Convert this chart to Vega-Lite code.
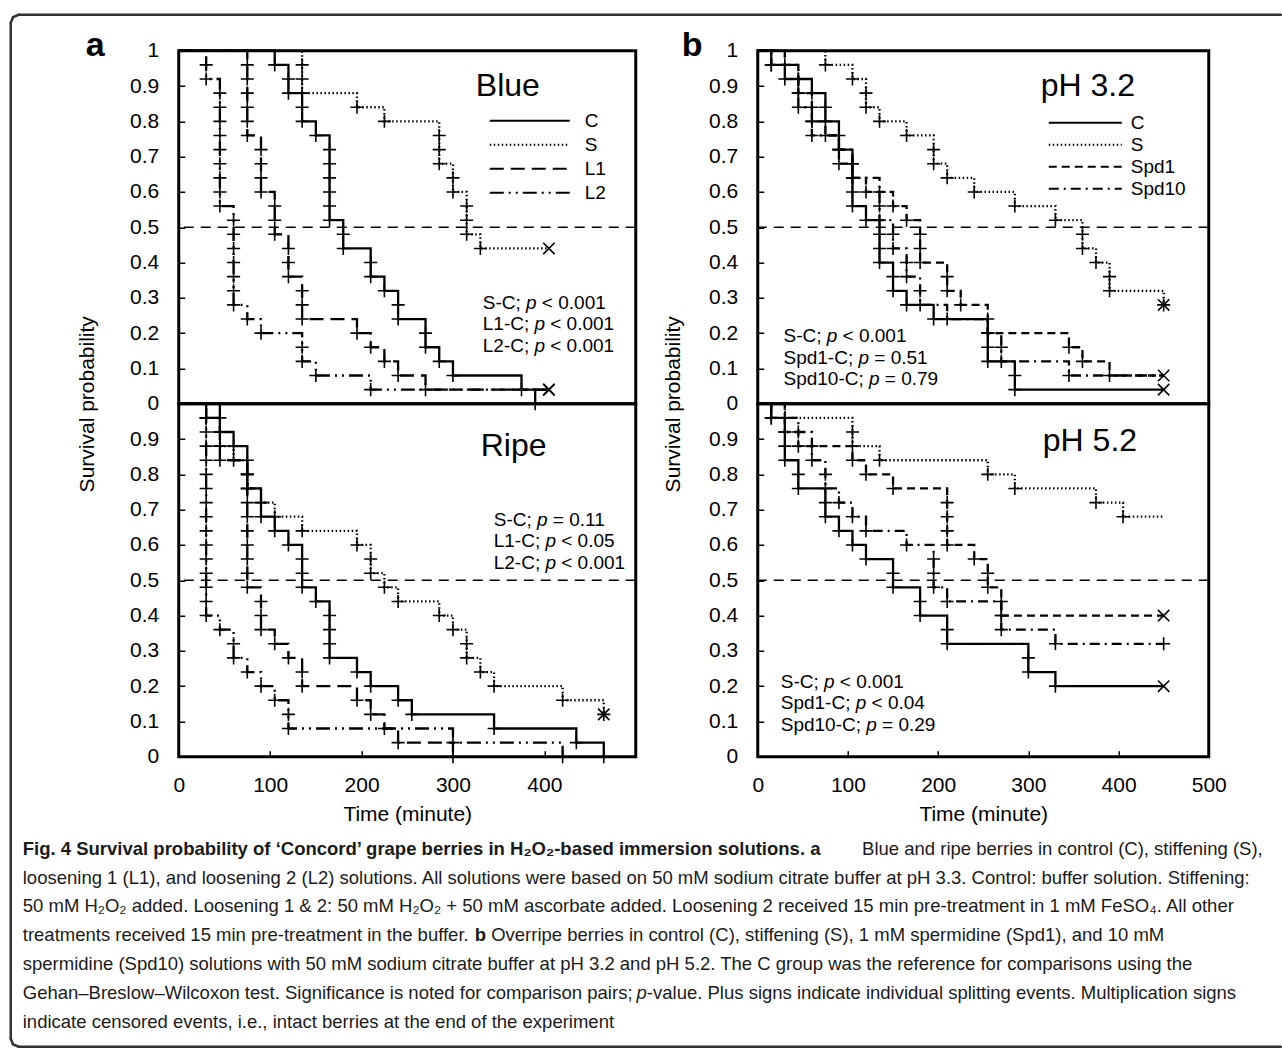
{
"$schema": "https://vega.github.io/schema/vega-lite/v6.json",
"padding": {"left": 8.75, "top": 12.75, "right": 0, "bottom": 0},
"autosize": {"type": "pad"},
"background": "white",
"config": {
  "font": "Liberation Sans",
  "view": {"stroke": "black", "strokeWidth": 3},
  "axis": {"domain": false, "grid": false, "ticks": true, "tickColor": "black", "tickWidth": 1.5, "tickSize": -6, "labelFont": "Liberation Sans", "labelFontSize": 21, "labelColor": "black", "labelFlush": false, "labelOverlap": false, "titleFont": "Liberation Sans", "titleFontSize": 21, "titleFontWeight": "normal", "titleColor": "black"},
  "text": {"color": "black", "font": "Liberation Sans"}
},
"datasets": {
"blue": [
{"g":"C","t":0,"s":1,"m":"n"},{"g":"C","t":105,"s":0.96,"m":"e"},{"g":"C","t":120,"s":0.92,"m":"e"},{"g":"C","t":120,"s":0.88,"m":"e"},{"g":"C","t":135,"s":0.84,"m":"e"},{"g":"C","t":135,"s":0.8,"m":"e"},{"g":"C","t":150,"s":0.76,"m":"e"},{"g":"C","t":165,"s":0.72,"m":"e"},{"g":"C","t":165,"s":0.68,"m":"e"},{"g":"C","t":165,"s":0.64,"m":"e"},{"g":"C","t":165,"s":0.6,"m":"e"},{"g":"C","t":165,"s":0.56,"m":"e"},{"g":"C","t":165,"s":0.52,"m":"e"},{"g":"C","t":180,"s":0.48,"m":"e"},{"g":"C","t":180,"s":0.44,"m":"e"},{"g":"C","t":210,"s":0.4,"m":"e"},{"g":"C","t":210,"s":0.36,"m":"e"},{"g":"C","t":225,"s":0.32,"m":"e"},{"g":"C","t":240,"s":0.28,"m":"e"},{"g":"C","t":240,"s":0.24,"m":"e"},{"g":"C","t":270,"s":0.2,"m":"e"},{"g":"C","t":270,"s":0.16,"m":"e"},{"g":"C","t":285,"s":0.12,"m":"e"},{"g":"C","t":300,"s":0.08,"m":"e"},{"g":"C","t":375,"s":0.04,"m":"e"},{"g":"C","t":390,"s":0,"m":"e"},
{"g":"S","t":0,"s":1,"m":"n"},{"g":"S","t":135,"s":0.96,"m":"e"},{"g":"S","t":135,"s":0.92,"m":"e"},{"g":"S","t":135,"s":0.88,"m":"e"},{"g":"S","t":195,"s":0.84,"m":"e"},{"g":"S","t":225,"s":0.8,"m":"e"},{"g":"S","t":285,"s":0.76,"m":"e"},{"g":"S","t":285,"s":0.72,"m":"e"},{"g":"S","t":285,"s":0.68,"m":"e"},{"g":"S","t":300,"s":0.64,"m":"e"},{"g":"S","t":300,"s":0.6,"m":"e"},{"g":"S","t":315,"s":0.56,"m":"e"},{"g":"S","t":315,"s":0.52,"m":"e"},{"g":"S","t":315,"s":0.48,"m":"e"},{"g":"S","t":330,"s":0.44,"m":"e"},{"g":"S","t":405,"s":0.44,"m":"c"},
{"g":"L1","t":0,"s":1,"m":"n"},{"g":"L1","t":75,"s":0.96,"m":"e"},{"g":"L1","t":75,"s":0.92,"m":"e"},{"g":"L1","t":75,"s":0.88,"m":"e"},{"g":"L1","t":75,"s":0.84,"m":"e"},{"g":"L1","t":75,"s":0.8,"m":"e"},{"g":"L1","t":75,"s":0.76,"m":"e"},{"g":"L1","t":90,"s":0.72,"m":"e"},{"g":"L1","t":90,"s":0.68,"m":"e"},{"g":"L1","t":90,"s":0.64,"m":"e"},{"g":"L1","t":90,"s":0.6,"m":"e"},{"g":"L1","t":105,"s":0.56,"m":"e"},{"g":"L1","t":105,"s":0.52,"m":"e"},{"g":"L1","t":105,"s":0.48,"m":"e"},{"g":"L1","t":120,"s":0.44,"m":"e"},{"g":"L1","t":120,"s":0.4,"m":"e"},{"g":"L1","t":120,"s":0.36,"m":"e"},{"g":"L1","t":135,"s":0.32,"m":"e"},{"g":"L1","t":135,"s":0.28,"m":"e"},{"g":"L1","t":135,"s":0.24,"m":"e"},{"g":"L1","t":195,"s":0.2,"m":"e"},{"g":"L1","t":210,"s":0.16,"m":"e"},{"g":"L1","t":225,"s":0.12,"m":"e"},{"g":"L1","t":240,"s":0.08,"m":"e"},{"g":"L1","t":270,"s":0.04,"m":"e"},{"g":"L1","t":405,"s":0.04,"m":"c"},
{"g":"L2","t":0,"s":1,"m":"n"},{"g":"L2","t":30,"s":0.96,"m":"e"},{"g":"L2","t":30,"s":0.92,"m":"e"},{"g":"L2","t":45,"s":0.88,"m":"e"},{"g":"L2","t":45,"s":0.84,"m":"e"},{"g":"L2","t":45,"s":0.8,"m":"e"},{"g":"L2","t":45,"s":0.76,"m":"e"},{"g":"L2","t":45,"s":0.72,"m":"e"},{"g":"L2","t":45,"s":0.68,"m":"e"},{"g":"L2","t":45,"s":0.64,"m":"e"},{"g":"L2","t":45,"s":0.6,"m":"e"},{"g":"L2","t":45,"s":0.56,"m":"e"},{"g":"L2","t":60,"s":0.52,"m":"e"},{"g":"L2","t":60,"s":0.48,"m":"e"},{"g":"L2","t":60,"s":0.44,"m":"e"},{"g":"L2","t":60,"s":0.4,"m":"e"},{"g":"L2","t":60,"s":0.36,"m":"e"},{"g":"L2","t":60,"s":0.32,"m":"e"},{"g":"L2","t":60,"s":0.28,"m":"e"},{"g":"L2","t":75,"s":0.24,"m":"e"},{"g":"L2","t":90,"s":0.2,"m":"e"},{"g":"L2","t":135,"s":0.16,"m":"e"},{"g":"L2","t":135,"s":0.12,"m":"e"},{"g":"L2","t":150,"s":0.08,"m":"e"},{"g":"L2","t":210,"s":0.04,"m":"e"},{"g":"L2","t":405,"s":0.04,"m":"c"}
],
"ripe": [
{"g":"C","t":0,"s":1,"m":"n"},{"g":"C","t":30,"s":0.96,"m":"e"},{"g":"C","t":45,"s":0.92,"m":"e"},{"g":"C","t":60,"s":0.88,"m":"e"},{"g":"C","t":75,"s":0.84,"m":"e"},{"g":"C","t":75,"s":0.8,"m":"e"},{"g":"C","t":75,"s":0.76,"m":"e"},{"g":"C","t":90,"s":0.72,"m":"e"},{"g":"C","t":90,"s":0.68,"m":"e"},{"g":"C","t":105,"s":0.64,"m":"e"},{"g":"C","t":120,"s":0.6,"m":"e"},{"g":"C","t":135,"s":0.56,"m":"e"},{"g":"C","t":135,"s":0.52,"m":"e"},{"g":"C","t":135,"s":0.48,"m":"e"},{"g":"C","t":150,"s":0.44,"m":"e"},{"g":"C","t":165,"s":0.4,"m":"e"},{"g":"C","t":165,"s":0.36,"m":"e"},{"g":"C","t":165,"s":0.32,"m":"e"},{"g":"C","t":165,"s":0.28,"m":"e"},{"g":"C","t":195,"s":0.24,"m":"e"},{"g":"C","t":210,"s":0.2,"m":"e"},{"g":"C","t":240,"s":0.16,"m":"e"},{"g":"C","t":255,"s":0.12,"m":"e"},{"g":"C","t":345,"s":0.08,"m":"e"},{"g":"C","t":435,"s":0.04,"m":"e"},{"g":"C","t":465,"s":0,"m":"e"},
{"g":"S","t":0,"s":1,"m":"n"},{"g":"S","t":30,"s":0.96,"m":"e"},{"g":"S","t":45,"s":0.92,"m":"e"},{"g":"S","t":45,"s":0.88,"m":"e"},{"g":"S","t":60,"s":0.84,"m":"e"},{"g":"S","t":75,"s":0.8,"m":"e"},{"g":"S","t":75,"s":0.76,"m":"e"},{"g":"S","t":90,"s":0.72,"m":"e"},{"g":"S","t":105,"s":0.68,"m":"e"},{"g":"S","t":135,"s":0.64,"m":"e"},{"g":"S","t":195,"s":0.6,"m":"e"},{"g":"S","t":210,"s":0.56,"m":"e"},{"g":"S","t":210,"s":0.52,"m":"e"},{"g":"S","t":225,"s":0.48,"m":"e"},{"g":"S","t":240,"s":0.44,"m":"e"},{"g":"S","t":285,"s":0.4,"m":"e"},{"g":"S","t":300,"s":0.36,"m":"e"},{"g":"S","t":315,"s":0.32,"m":"e"},{"g":"S","t":315,"s":0.28,"m":"e"},{"g":"S","t":330,"s":0.24,"m":"e"},{"g":"S","t":345,"s":0.2,"m":"e"},{"g":"S","t":420,"s":0.16,"m":"e"},{"g":"S","t":465,"s":0.12,"m":"e"},{"g":"S","t":465,"s":0.12,"m":"c"},
{"g":"L1","t":0,"s":1,"m":"n"},{"g":"L1","t":45,"s":0.96,"m":"e"},{"g":"L1","t":45,"s":0.92,"m":"e"},{"g":"L1","t":45,"s":0.88,"m":"e"},{"g":"L1","t":45,"s":0.84,"m":"e"},{"g":"L1","t":75,"s":0.8,"m":"e"},{"g":"L1","t":75,"s":0.76,"m":"e"},{"g":"L1","t":75,"s":0.72,"m":"e"},{"g":"L1","t":75,"s":0.68,"m":"e"},{"g":"L1","t":75,"s":0.64,"m":"e"},{"g":"L1","t":75,"s":0.6,"m":"e"},{"g":"L1","t":75,"s":0.56,"m":"e"},{"g":"L1","t":75,"s":0.52,"m":"e"},{"g":"L1","t":75,"s":0.48,"m":"e"},{"g":"L1","t":90,"s":0.44,"m":"e"},{"g":"L1","t":90,"s":0.4,"m":"e"},{"g":"L1","t":90,"s":0.36,"m":"e"},{"g":"L1","t":105,"s":0.32,"m":"e"},{"g":"L1","t":120,"s":0.28,"m":"e"},{"g":"L1","t":135,"s":0.24,"m":"e"},{"g":"L1","t":135,"s":0.2,"m":"e"},{"g":"L1","t":195,"s":0.16,"m":"e"},{"g":"L1","t":210,"s":0.12,"m":"e"},{"g":"L1","t":225,"s":0.08,"m":"e"},{"g":"L1","t":240,"s":0.04,"m":"e"},{"g":"L1","t":300,"s":0,"m":"e"},
{"g":"L2","t":0,"s":1,"m":"n"},{"g":"L2","t":30,"s":0.96,"m":"e"},{"g":"L2","t":30,"s":0.92,"m":"e"},{"g":"L2","t":30,"s":0.88,"m":"e"},{"g":"L2","t":30,"s":0.84,"m":"e"},{"g":"L2","t":30,"s":0.8,"m":"e"},{"g":"L2","t":30,"s":0.76,"m":"e"},{"g":"L2","t":30,"s":0.72,"m":"e"},{"g":"L2","t":30,"s":0.68,"m":"e"},{"g":"L2","t":30,"s":0.64,"m":"e"},{"g":"L2","t":30,"s":0.6,"m":"e"},{"g":"L2","t":30,"s":0.56,"m":"e"},{"g":"L2","t":30,"s":0.52,"m":"e"},{"g":"L2","t":30,"s":0.48,"m":"e"},{"g":"L2","t":30,"s":0.44,"m":"e"},{"g":"L2","t":30,"s":0.4,"m":"e"},{"g":"L2","t":45,"s":0.36,"m":"e"},{"g":"L2","t":60,"s":0.32,"m":"e"},{"g":"L2","t":60,"s":0.28,"m":"e"},{"g":"L2","t":75,"s":0.24,"m":"e"},{"g":"L2","t":90,"s":0.2,"m":"e"},{"g":"L2","t":105,"s":0.16,"m":"e"},{"g":"L2","t":120,"s":0.12,"m":"e"},{"g":"L2","t":120,"s":0.08,"m":"e"},{"g":"L2","t":300,"s":0.04,"m":"e"},{"g":"L2","t":420,"s":0,"m":"e"}
],
"ph3": [
{"g":"C","t":0,"s":1,"m":"n"},{"g":"C","t":15,"s":0.96,"m":"e"},{"g":"C","t":30,"s":0.92,"m":"e"},{"g":"C","t":60,"s":0.88,"m":"e"},{"g":"C","t":75,"s":0.84,"m":"e"},{"g":"C","t":75,"s":0.8,"m":"e"},{"g":"C","t":90,"s":0.76,"m":"e"},{"g":"C","t":90,"s":0.72,"m":"e"},{"g":"C","t":105,"s":0.68,"m":"e"},{"g":"C","t":105,"s":0.64,"m":"e"},{"g":"C","t":105,"s":0.6,"m":"e"},{"g":"C","t":105,"s":0.56,"m":"e"},{"g":"C","t":120,"s":0.52,"m":"e"},{"g":"C","t":135,"s":0.48,"m":"e"},{"g":"C","t":135,"s":0.44,"m":"e"},{"g":"C","t":135,"s":0.4,"m":"e"},{"g":"C","t":150,"s":0.36,"m":"e"},{"g":"C","t":150,"s":0.32,"m":"e"},{"g":"C","t":165,"s":0.28,"m":"e"},{"g":"C","t":195,"s":0.24,"m":"e"},{"g":"C","t":255,"s":0.2,"m":"e"},{"g":"C","t":255,"s":0.16,"m":"e"},{"g":"C","t":255,"s":0.12,"m":"e"},{"g":"C","t":285,"s":0.08,"m":"e"},{"g":"C","t":285,"s":0.04,"m":"e"},{"g":"C","t":450,"s":0.04,"m":"c"},
{"g":"S","t":0,"s":1,"m":"n"},{"g":"S","t":75,"s":0.96,"m":"e"},{"g":"S","t":105,"s":0.92,"m":"e"},{"g":"S","t":120,"s":0.88,"m":"e"},{"g":"S","t":120,"s":0.84,"m":"e"},{"g":"S","t":135,"s":0.8,"m":"e"},{"g":"S","t":165,"s":0.76,"m":"e"},{"g":"S","t":195,"s":0.72,"m":"e"},{"g":"S","t":195,"s":0.68,"m":"e"},{"g":"S","t":210,"s":0.64,"m":"e"},{"g":"S","t":240,"s":0.6,"m":"e"},{"g":"S","t":285,"s":0.56,"m":"e"},{"g":"S","t":330,"s":0.52,"m":"e"},{"g":"S","t":360,"s":0.48,"m":"e"},{"g":"S","t":360,"s":0.44,"m":"e"},{"g":"S","t":375,"s":0.4,"m":"e"},{"g":"S","t":390,"s":0.36,"m":"e"},{"g":"S","t":390,"s":0.32,"m":"e"},{"g":"S","t":450,"s":0.28,"m":"e"},{"g":"S","t":450,"s":0.28,"m":"c"},
{"g":"Spd1","t":0,"s":1,"m":"n"},{"g":"Spd1","t":30,"s":0.96,"m":"e"},{"g":"Spd1","t":45,"s":0.92,"m":"e"},{"g":"Spd1","t":45,"s":0.88,"m":"e"},{"g":"Spd1","t":60,"s":0.84,"m":"e"},{"g":"Spd1","t":60,"s":0.8,"m":"e"},{"g":"Spd1","t":75,"s":0.76,"m":"e"},{"g":"Spd1","t":90,"s":0.72,"m":"e"},{"g":"Spd1","t":90,"s":0.68,"m":"e"},{"g":"Spd1","t":105,"s":0.64,"m":"e"},{"g":"Spd1","t":120,"s":0.6,"m":"e"},{"g":"Spd1","t":150,"s":0.56,"m":"e"},{"g":"Spd1","t":165,"s":0.52,"m":"e"},{"g":"Spd1","t":180,"s":0.48,"m":"e"},{"g":"Spd1","t":180,"s":0.44,"m":"e"},{"g":"Spd1","t":180,"s":0.4,"m":"e"},{"g":"Spd1","t":210,"s":0.36,"m":"e"},{"g":"Spd1","t":210,"s":0.32,"m":"e"},{"g":"Spd1","t":225,"s":0.28,"m":"e"},{"g":"Spd1","t":255,"s":0.24,"m":"e"},{"g":"Spd1","t":255,"s":0.2,"m":"e"},{"g":"Spd1","t":345,"s":0.16,"m":"e"},{"g":"Spd1","t":360,"s":0.12,"m":"e"},{"g":"Spd1","t":390,"s":0.08,"m":"e"},{"g":"Spd1","t":450,"s":0.08,"m":"c"},
{"g":"Spd10","t":0,"s":1,"m":"n"},{"g":"Spd10","t":15,"s":0.96,"m":"e"},{"g":"Spd10","t":45,"s":0.92,"m":"e"},{"g":"Spd10","t":45,"s":0.88,"m":"e"},{"g":"Spd10","t":45,"s":0.84,"m":"e"},{"g":"Spd10","t":60,"s":0.8,"m":"e"},{"g":"Spd10","t":60,"s":0.76,"m":"e"},{"g":"Spd10","t":90,"s":0.72,"m":"e"},{"g":"Spd10","t":105,"s":0.68,"m":"e"},{"g":"Spd10","t":105,"s":0.64,"m":"e"},{"g":"Spd10","t":135,"s":0.6,"m":"e"},{"g":"Spd10","t":135,"s":0.56,"m":"e"},{"g":"Spd10","t":135,"s":0.52,"m":"e"},{"g":"Spd10","t":150,"s":0.48,"m":"e"},{"g":"Spd10","t":150,"s":0.44,"m":"e"},{"g":"Spd10","t":165,"s":0.4,"m":"e"},{"g":"Spd10","t":165,"s":0.36,"m":"e"},{"g":"Spd10","t":180,"s":0.32,"m":"e"},{"g":"Spd10","t":180,"s":0.28,"m":"e"},{"g":"Spd10","t":210,"s":0.24,"m":"e"},{"g":"Spd10","t":255,"s":0.2,"m":"e"},{"g":"Spd10","t":270,"s":0.16,"m":"e"},{"g":"Spd10","t":270,"s":0.12,"m":"e"},{"g":"Spd10","t":345,"s":0.08,"m":"e"},{"g":"Spd10","t":450,"s":0.08,"m":"n"}
],
"ph5": [
{"g":"C","t":0,"s":1,"m":"n"},{"g":"C","t":15,"s":0.96,"m":"e"},{"g":"C","t":30,"s":0.92,"m":"e"},{"g":"C","t":30,"s":0.88,"m":"e"},{"g":"C","t":30,"s":0.84,"m":"e"},{"g":"C","t":45,"s":0.8,"m":"e"},{"g":"C","t":45,"s":0.76,"m":"e"},{"g":"C","t":75,"s":0.72,"m":"e"},{"g":"C","t":75,"s":0.68,"m":"e"},{"g":"C","t":90,"s":0.64,"m":"e"},{"g":"C","t":105,"s":0.6,"m":"e"},{"g":"C","t":120,"s":0.56,"m":"e"},{"g":"C","t":150,"s":0.52,"m":"e"},{"g":"C","t":150,"s":0.48,"m":"e"},{"g":"C","t":180,"s":0.44,"m":"e"},{"g":"C","t":180,"s":0.4,"m":"e"},{"g":"C","t":210,"s":0.36,"m":"e"},{"g":"C","t":210,"s":0.32,"m":"e"},{"g":"C","t":300,"s":0.28,"m":"e"},{"g":"C","t":300,"s":0.24,"m":"e"},{"g":"C","t":330,"s":0.2,"m":"e"},{"g":"C","t":450,"s":0.2,"m":"c"},
{"g":"S","t":0,"s":1,"m":"n"},{"g":"S","t":30,"s":0.96,"m":"e"},{"g":"S","t":105,"s":0.92,"m":"e"},{"g":"S","t":105,"s":0.88,"m":"e"},{"g":"S","t":135,"s":0.84,"m":"e"},{"g":"S","t":255,"s":0.8,"m":"e"},{"g":"S","t":285,"s":0.76,"m":"e"},{"g":"S","t":375,"s":0.72,"m":"e"},{"g":"S","t":405,"s":0.68,"m":"e"},{"g":"S","t":450,"s":0.68,"m":"n"},
{"g":"Spd1","t":0,"s":1,"m":"n"},{"g":"Spd1","t":15,"s":0.96,"m":"e"},{"g":"Spd1","t":30,"s":0.92,"m":"e"},{"g":"Spd1","t":45,"s":0.88,"m":"e"},{"g":"Spd1","t":105,"s":0.84,"m":"e"},{"g":"Spd1","t":120,"s":0.8,"m":"e"},{"g":"Spd1","t":150,"s":0.76,"m":"e"},{"g":"Spd1","t":210,"s":0.72,"m":"e"},{"g":"Spd1","t":210,"s":0.68,"m":"e"},{"g":"Spd1","t":210,"s":0.64,"m":"e"},{"g":"Spd1","t":210,"s":0.6,"m":"e"},{"g":"Spd1","t":240,"s":0.56,"m":"e"},{"g":"Spd1","t":255,"s":0.52,"m":"e"},{"g":"Spd1","t":255,"s":0.48,"m":"e"},{"g":"Spd1","t":270,"s":0.44,"m":"e"},{"g":"Spd1","t":270,"s":0.4,"m":"e"},{"g":"Spd1","t":450,"s":0.4,"m":"c"},
{"g":"Spd10","t":0,"s":1,"m":"n"},{"g":"Spd10","t":30,"s":0.96,"m":"e"},{"g":"Spd10","t":45,"s":0.92,"m":"e"},{"g":"Spd10","t":60,"s":0.88,"m":"e"},{"g":"Spd10","t":60,"s":0.84,"m":"e"},{"g":"Spd10","t":75,"s":0.8,"m":"e"},{"g":"Spd10","t":75,"s":0.76,"m":"e"},{"g":"Spd10","t":90,"s":0.72,"m":"e"},{"g":"Spd10","t":105,"s":0.68,"m":"e"},{"g":"Spd10","t":120,"s":0.64,"m":"e"},{"g":"Spd10","t":165,"s":0.6,"m":"e"},{"g":"Spd10","t":195,"s":0.56,"m":"e"},{"g":"Spd10","t":195,"s":0.52,"m":"e"},{"g":"Spd10","t":195,"s":0.48,"m":"e"},{"g":"Spd10","t":210,"s":0.44,"m":"e"},{"g":"Spd10","t":270,"s":0.4,"m":"e"},{"g":"Spd10","t":270,"s":0.36,"m":"e"},{"g":"Spd10","t":330,"s":0.32,"m":"e"},{"g":"Spd10","t":450,"s":0.32,"m":"e"}
],
"ann": [
{"k":"Bt","v":"Blue"},{"k":"Rt","v":"Ripe"},{"k":"Pt","v":"pH 3.2"},{"k":"Qt","v":"pH 5.2"},{"k":"pp","v":"p"},
{"k":"B0a","v":"S-C;"},{"k":"B0c","v":"< 0.001"},{"k":"B1a","v":"L1-C;"},{"k":"B1c","v":"< 0.001"},{"k":"B2a","v":"L2-C;"},{"k":"B2c","v":"< 0.001"},
{"k":"R0a","v":"S-C;"},{"k":"R0c","v":"= 0.11"},{"k":"R1a","v":"L1-C;"},{"k":"R1c","v":"< 0.05"},{"k":"R2a","v":"L2-C;"},{"k":"R2c","v":"< 0.001"},
{"k":"P0a","v":"S-C;"},{"k":"P0c","v":"< 0.001"},{"k":"P1a","v":"Spd1-C;"},{"k":"P1c","v":"= 0.51"},{"k":"P2a","v":"Spd10-C;"},{"k":"P2c","v":"= 0.79"},
{"k":"Q0a","v":"S-C;"},{"k":"Q0c","v":"< 0.001"},{"k":"Q1a","v":"Spd1-C;"},{"k":"Q1c","v":"< 0.04"},{"k":"Q2a","v":"Spd10-C;"},{"k":"Q2c","v":"= 0.29"}
],
"cap": [
{"id":"pa","v":"a"},{"id":"pb","v":"b"},
{"id":"L1a","v":"Fig. 4 Survival probability of ‘Concord’ grape berries in H₂O₂-based immersion solutions. a"},
{"id":"L1b","v":"Blue and ripe berries in control (C), stiffening (S),"},
{"id":"L2","v":"loosening 1 (L1), and loosening 2 (L2) solutions. All solutions were based on 50 mM sodium citrate buffer at pH 3.3. Control: buffer solution. Stiffening:"},
{"id":"L3","v":"50 mM H₂O₂ added. Loosening 1 & 2: 50 mM H₂O₂ + 50 mM ascorbate added. Loosening 2 received 15 min pre-treatment in 1 mM FeSO₄. All other"},
{"id":"L4a","v":"treatments received 15 min pre-treatment in the buffer."},
{"id":"L4b","v":"b"},
{"id":"L4c","v":"Overripe berries in control (C), stiffening (S), 1 mM spermidine (Spd1), and 10 mM"},
{"id":"L5","v":"spermidine (Spd10) solutions with 50 mM sodium citrate buffer at pH 3.2 and pH 5.2. The C group was the reference for comparisons using the"},
{"id":"L6a","v":"Gehan–Breslow–Wilcoxon test. Significance is noted for comparison pairs;"},
{"id":"L6b","v":"p"},
{"id":"L6c","v":"-value. Plus signs indicate individual splitting events. Multiplication signs"},
{"id":"L7","v":"indicate censored events, i.e., intact berries at the end of the experiment"}
]
},
"columns": 2,
"spacing": {"row": 0, "column": 122},
"bounds": "flush",
"resolve": {"scale": {"x": "independent", "y": "independent", "strokeDash": "independent"}, "legend": {"strokeDash": "independent"}},
"concat": [
{
 "width": 457, "height": 353,
 "data": {"name": "blue"},
 "layer": [
  {"data": {"values": [{}]}, "mark": {"type": "rule", "strokeDash": [10, 7], "strokeWidth": 1.4, "color": "black"}, "encoding": {"y": {"datum": 0.5}}},
  {"mark": {"type": "line", "interpolate": "step-after", "strokeWidth": 2.3, "color": "black"},
   "encoding": {
    "x": {"field": "t", "type": "quantitative", "scale": {"domain": [0, 500], "nice": false, "zero": false}, "axis": null},
    "y": {"field": "s", "type": "quantitative", "scale": {"domain": [0, 1], "nice": false}, "axis": {"values": [0,0.1,0.2,0.3,0.4,0.5,0.6,0.7,0.8,0.9,1], "tickCount": 11, "labelOverlap": false, "format": "~g", "labelPadding": 26, "title": "Survival probability", "titleY": 353, "titleX": -81, "titleAngle": -90, "titleBaseline": "bottom", "titleAlign": "center"}},
    "strokeDash": {"field": "g", "type": "nominal", "scale": {"domain": ["C","S","L1","L2"], "range": [[1,0],[1.5,2.5],[14,7],[14,5,2,5,2,5]]},
      "legend": {"orient": "none", "legendX": 310, "legendY": 59, "title": null, "symbolType": "stroke", "symbolSize": 6400, "symbolStrokeWidth": 2, "symbolStrokeColor": "black", "clipHeight": 22, "rowPadding": 2, "labelFontSize": 19, "labelFont": "Liberation Sans", "labelColor": "black", "labelOffset": 14, "padding": 0}},
    "order": [{"field": "t", "type": "quantitative"}, {"field": "s", "type": "quantitative", "sort": "descending"}]
   }},
  {"transform": [{"filter": "datum.m == 'e'"}], "mark": {"type": "point", "shape": "M-1,0L1,0M0,-1L0,1", "size": 170, "filled": false, "strokeWidth": 1.6, "color": "black", "opacity": 1}, "encoding": {"x": {"field": "t", "type": "quantitative", "axis": null}, "y": {"field": "s", "type": "quantitative"}}},
  {"transform": [{"filter": "datum.m == 'c'"}], "mark": {"type": "point", "shape": "M-1,-1L1,1M-1,1L1,-1", "size": 130, "filled": false, "strokeWidth": 1.6, "color": "black", "opacity": 1}, "encoding": {"x": {"field": "t", "type": "quantitative", "axis": null}, "y": {"field": "s", "type": "quantitative"}}},
  {"data": {"name": "ann"}, "transform": [{"filter": "datum.k == 'Bt'"}], "mark": {"type": "text", "align": "left", "baseline": "alphabetic", "fontSize": 32}, "encoding": {"x": {"datum": 325, "axis": null}, "y": {"datum": 0.873}, "text": {"field": "v"}}},
  {"data": {"name": "ann"}, "transform": [{"filter": "datum.k == 'B0a'"}], "mark": {"type": "text", "align": "left", "baseline": "alphabetic", "fontSize": 19, "dy": 0}, "encoding": {"x": {"datum": 332.6, "axis": null}, "y": {"datum": 0.269}, "text": {"field": "v"}}},
  {"data": {"name": "ann"}, "transform": [{"filter": "datum.k == 'pp'"}], "mark": {"type": "text", "align": "left", "baseline": "alphabetic", "fontSize": 19, "fontStyle": "italic", "dx": 43.3, "dy": 0}, "encoding": {"x": {"datum": 332.6, "axis": null}, "y": {"datum": 0.269}, "text": {"field": "v"}}},
  {"data": {"name": "ann"}, "transform": [{"filter": "datum.k == 'B0c'"}], "mark": {"type": "text", "align": "left", "baseline": "alphabetic", "fontSize": 19, "dx": 59.1, "dy": 0}, "encoding": {"x": {"datum": 332.6, "axis": null}, "y": {"datum": 0.269}, "text": {"field": "v"}}},
  {"data": {"name": "ann"}, "transform": [{"filter": "datum.k == 'B1a'"}], "mark": {"type": "text", "align": "left", "baseline": "alphabetic", "fontSize": 19, "dy": 21.5}, "encoding": {"x": {"datum": 332.6, "axis": null}, "y": {"datum": 0.269}, "text": {"field": "v"}}},
  {"data": {"name": "ann"}, "transform": [{"filter": "datum.k == 'pp'"}], "mark": {"type": "text", "align": "left", "baseline": "alphabetic", "fontSize": 19, "fontStyle": "italic", "dx": 51.7, "dy": 21.5}, "encoding": {"x": {"datum": 332.6, "axis": null}, "y": {"datum": 0.269}, "text": {"field": "v"}}},
  {"data": {"name": "ann"}, "transform": [{"filter": "datum.k == 'B1c'"}], "mark": {"type": "text", "align": "left", "baseline": "alphabetic", "fontSize": 19, "dx": 67.5, "dy": 21.5}, "encoding": {"x": {"datum": 332.6, "axis": null}, "y": {"datum": 0.269}, "text": {"field": "v"}}},
  {"data": {"name": "ann"}, "transform": [{"filter": "datum.k == 'B2a'"}], "mark": {"type": "text", "align": "left", "baseline": "alphabetic", "fontSize": 19, "dy": 43}, "encoding": {"x": {"datum": 332.6, "axis": null}, "y": {"datum": 0.269}, "text": {"field": "v"}}},
  {"data": {"name": "ann"}, "transform": [{"filter": "datum.k == 'pp'"}], "mark": {"type": "text", "align": "left", "baseline": "alphabetic", "fontSize": 19, "fontStyle": "italic", "dx": 51.7, "dy": 43}, "encoding": {"x": {"datum": 332.6, "axis": null}, "y": {"datum": 0.269}, "text": {"field": "v"}}},
  {"data": {"name": "ann"}, "transform": [{"filter": "datum.k == 'B2c'"}], "mark": {"type": "text", "align": "left", "baseline": "alphabetic", "fontSize": 19, "dx": 67.5, "dy": 43}, "encoding": {"x": {"datum": 332.6, "axis": null}, "y": {"datum": 0.269}, "text": {"field": "v"}}}
 ]
},
{
 "width": 451, "height": 353,
 "data": {"name": "ph3"},
 "layer": [
  {"data": {"values": [{}]}, "mark": {"type": "rule", "strokeDash": [10, 7], "strokeWidth": 1.4, "color": "black"}, "encoding": {"y": {"datum": 0.5}}},
  {"mark": {"type": "line", "interpolate": "step-after", "strokeWidth": 2.3, "color": "black"},
   "encoding": {
    "x": {"field": "t", "type": "quantitative", "scale": {"domain": [0, 500], "nice": false, "zero": false}, "axis": null},
    "y": {"field": "s", "type": "quantitative", "scale": {"domain": [0, 1], "nice": false}, "axis": {"values": [0,0.1,0.2,0.3,0.4,0.5,0.6,0.7,0.8,0.9,1], "tickCount": 11, "labelOverlap": false, "format": "~g", "labelPadding": 26, "title": "Survival probability", "titleY": 353, "titleX": -74, "titleAngle": -90, "titleBaseline": "bottom", "titleAlign": "center"}},
    "strokeDash": {"field": "g", "type": "nominal", "scale": {"domain": ["C","S","Spd1","Spd10"], "range": [[1,0],[1.5,2.5],[8,5],[10,5,2,5]]},
      "legend": {"orient": "none", "legendX": 290, "legendY": 62, "title": null, "symbolType": "stroke", "symbolSize": 5329, "symbolStrokeWidth": 2, "symbolStrokeColor": "black", "clipHeight": 20, "rowPadding": 2, "labelFontSize": 19, "labelFont": "Liberation Sans", "labelColor": "black", "labelOffset": 8, "padding": 0}},
    "order": [{"field": "t", "type": "quantitative"}, {"field": "s", "type": "quantitative", "sort": "descending"}]
   }},
  {"transform": [{"filter": "datum.m == 'e'"}], "mark": {"type": "point", "shape": "M-1,0L1,0M0,-1L0,1", "size": 170, "filled": false, "strokeWidth": 1.6, "color": "black", "opacity": 1}, "encoding": {"x": {"field": "t", "type": "quantitative", "axis": null}, "y": {"field": "s", "type": "quantitative"}}},
  {"transform": [{"filter": "datum.m == 'c'"}], "mark": {"type": "point", "shape": "M-1,-1L1,1M-1,1L1,-1", "size": 130, "filled": false, "strokeWidth": 1.6, "color": "black", "opacity": 1}, "encoding": {"x": {"field": "t", "type": "quantitative", "axis": null}, "y": {"field": "s", "type": "quantitative"}}},
  {"data": {"name": "ann"}, "transform": [{"filter": "datum.k == 'Pt'"}], "mark": {"type": "text", "align": "left", "baseline": "alphabetic", "fontSize": 32}, "encoding": {"x": {"datum": 313.7, "axis": null}, "y": {"datum": 0.873}, "text": {"field": "v"}}},
  {"data": {"name": "ann"}, "transform": [{"filter": "datum.k == 'P0a'"}], "mark": {"type": "text", "align": "left", "baseline": "alphabetic", "fontSize": 19, "dy": 0}, "encoding": {"x": {"datum": 28.5, "axis": null}, "y": {"datum": 0.174}, "text": {"field": "v"}}},
  {"data": {"name": "ann"}, "transform": [{"filter": "datum.k == 'pp'"}], "mark": {"type": "text", "align": "left", "baseline": "alphabetic", "fontSize": 19, "fontStyle": "italic", "dx": 43.3, "dy": 0}, "encoding": {"x": {"datum": 28.5, "axis": null}, "y": {"datum": 0.174}, "text": {"field": "v"}}},
  {"data": {"name": "ann"}, "transform": [{"filter": "datum.k == 'P0c'"}], "mark": {"type": "text", "align": "left", "baseline": "alphabetic", "fontSize": 19, "dx": 59.1, "dy": 0}, "encoding": {"x": {"datum": 28.5, "axis": null}, "y": {"datum": 0.174}, "text": {"field": "v"}}},
  {"data": {"name": "ann"}, "transform": [{"filter": "datum.k == 'P1a'"}], "mark": {"type": "text", "align": "left", "baseline": "alphabetic", "fontSize": 19, "dy": 21.5}, "encoding": {"x": {"datum": 28.5, "axis": null}, "y": {"datum": 0.174}, "text": {"field": "v"}}},
  {"data": {"name": "ann"}, "transform": [{"filter": "datum.k == 'pp'"}], "mark": {"type": "text", "align": "left", "baseline": "alphabetic", "fontSize": 19, "fontStyle": "italic", "dx": 75.0, "dy": 21.5}, "encoding": {"x": {"datum": 28.5, "axis": null}, "y": {"datum": 0.174}, "text": {"field": "v"}}},
  {"data": {"name": "ann"}, "transform": [{"filter": "datum.k == 'P1c'"}], "mark": {"type": "text", "align": "left", "baseline": "alphabetic", "fontSize": 19, "dx": 90.8, "dy": 21.5}, "encoding": {"x": {"datum": 28.5, "axis": null}, "y": {"datum": 0.174}, "text": {"field": "v"}}},
  {"data": {"name": "ann"}, "transform": [{"filter": "datum.k == 'P2a'"}], "mark": {"type": "text", "align": "left", "baseline": "alphabetic", "fontSize": 19, "dy": 43}, "encoding": {"x": {"datum": 28.5, "axis": null}, "y": {"datum": 0.174}, "text": {"field": "v"}}},
  {"data": {"name": "ann"}, "transform": [{"filter": "datum.k == 'pp'"}], "mark": {"type": "text", "align": "left", "baseline": "alphabetic", "fontSize": 19, "fontStyle": "italic", "dx": 85.5, "dy": 43}, "encoding": {"x": {"datum": 28.5, "axis": null}, "y": {"datum": 0.174}, "text": {"field": "v"}}},
  {"data": {"name": "ann"}, "transform": [{"filter": "datum.k == 'P2c'"}], "mark": {"type": "text", "align": "left", "baseline": "alphabetic", "fontSize": 19, "dx": 101.3, "dy": 43}, "encoding": {"x": {"datum": 28.5, "axis": null}, "y": {"datum": 0.174}, "text": {"field": "v"}}}
 ]
},
{
 "width": 457, "height": 353,
 "data": {"name": "ripe"},
 "layer": [
  {"data": {"values": [{}]}, "mark": {"type": "rule", "strokeDash": [10, 7], "strokeWidth": 1.4, "color": "black"}, "encoding": {"y": {"datum": 0.5}}},
  {"mark": {"type": "line", "interpolate": "step-after", "strokeWidth": 2.3, "color": "black"},
   "encoding": {
    "x": {"field": "t", "type": "quantitative", "scale": {"domain": [0, 500], "nice": false, "zero": false}, "axis": {"values": [0,100,200,300,400,500], "labelOverlap": false, "labelPadding": 23.5, "labelExpr": "datum.value >= 500 ? '' : datum.label", "title": "Time (minute)", "titlePadding": 8}},
    "y": {"field": "s", "type": "quantitative", "scale": {"domain": [0, 1], "nice": false}, "axis": {"values": [0,0.1,0.2,0.3,0.4,0.5,0.6,0.7,0.8,0.9,1], "tickCount": 11, "labelOverlap": false, "format": "~g", "labelPadding": 26, "labelExpr": "datum.value >= 1 ? '' : datum.label", "title": null}},
    "strokeDash": {"field": "g", "type": "nominal", "scale": {"domain": ["C","S","L1","L2"], "range": [[1,0],[1.5,2.5],[14,7],[14,5,2,5,2,5]]}, "legend": null},
    "order": [{"field": "t", "type": "quantitative"}, {"field": "s", "type": "quantitative", "sort": "descending"}]
   }},
  {"transform": [{"filter": "datum.m == 'e'"}], "mark": {"type": "point", "shape": "M-1,0L1,0M0,-1L0,1", "size": 170, "filled": false, "strokeWidth": 1.6, "color": "black", "opacity": 1}, "encoding": {"x": {"field": "t", "type": "quantitative"}, "y": {"field": "s", "type": "quantitative"}}},
  {"transform": [{"filter": "datum.m == 'c'"}], "mark": {"type": "point", "shape": "M-1,-1L1,1M-1,1L1,-1", "size": 130, "filled": false, "strokeWidth": 1.6, "color": "black", "opacity": 1}, "encoding": {"x": {"field": "t", "type": "quantitative"}, "y": {"field": "s", "type": "quantitative"}}},
  {"data": {"name": "ann"}, "transform": [{"filter": "datum.k == 'Rt'"}], "mark": {"type": "text", "align": "left", "baseline": "alphabetic", "fontSize": 32}, "encoding": {"x": {"datum": 330.4}, "y": {"datum": 0.853}, "text": {"field": "v"}}},
  {"data": {"name": "ann"}, "transform": [{"filter": "datum.k == 'R0a'"}], "mark": {"type": "text", "align": "left", "baseline": "alphabetic", "fontSize": 19, "dy": 0}, "encoding": {"x": {"datum": 344.6}, "y": {"datum": 0.654}, "text": {"field": "v"}}},
  {"data": {"name": "ann"}, "transform": [{"filter": "datum.k == 'pp'"}], "mark": {"type": "text", "align": "left", "baseline": "alphabetic", "fontSize": 19, "fontStyle": "italic", "dx": 43.3, "dy": 0}, "encoding": {"x": {"datum": 344.6}, "y": {"datum": 0.654}, "text": {"field": "v"}}},
  {"data": {"name": "ann"}, "transform": [{"filter": "datum.k == 'R0c'"}], "mark": {"type": "text", "align": "left", "baseline": "alphabetic", "fontSize": 19, "dx": 59.1, "dy": 0}, "encoding": {"x": {"datum": 344.6}, "y": {"datum": 0.654}, "text": {"field": "v"}}},
  {"data": {"name": "ann"}, "transform": [{"filter": "datum.k == 'R1a'"}], "mark": {"type": "text", "align": "left", "baseline": "alphabetic", "fontSize": 19, "dy": 21.5}, "encoding": {"x": {"datum": 344.6}, "y": {"datum": 0.654}, "text": {"field": "v"}}},
  {"data": {"name": "ann"}, "transform": [{"filter": "datum.k == 'pp'"}], "mark": {"type": "text", "align": "left", "baseline": "alphabetic", "fontSize": 19, "fontStyle": "italic", "dx": 51.7, "dy": 21.5}, "encoding": {"x": {"datum": 344.6}, "y": {"datum": 0.654}, "text": {"field": "v"}}},
  {"data": {"name": "ann"}, "transform": [{"filter": "datum.k == 'R1c'"}], "mark": {"type": "text", "align": "left", "baseline": "alphabetic", "fontSize": 19, "dx": 67.5, "dy": 21.5}, "encoding": {"x": {"datum": 344.6}, "y": {"datum": 0.654}, "text": {"field": "v"}}},
  {"data": {"name": "ann"}, "transform": [{"filter": "datum.k == 'R2a'"}], "mark": {"type": "text", "align": "left", "baseline": "alphabetic", "fontSize": 19, "dy": 43}, "encoding": {"x": {"datum": 344.6}, "y": {"datum": 0.654}, "text": {"field": "v"}}},
  {"data": {"name": "ann"}, "transform": [{"filter": "datum.k == 'pp'"}], "mark": {"type": "text", "align": "left", "baseline": "alphabetic", "fontSize": 19, "fontStyle": "italic", "dx": 51.7, "dy": 43}, "encoding": {"x": {"datum": 344.6}, "y": {"datum": 0.654}, "text": {"field": "v"}}},
  {"data": {"name": "ann"}, "transform": [{"filter": "datum.k == 'R2c'"}], "mark": {"type": "text", "align": "left", "baseline": "alphabetic", "fontSize": 19, "dx": 67.5, "dy": 43}, "encoding": {"x": {"datum": 344.6}, "y": {"datum": 0.654}, "text": {"field": "v"}}}
 ]
},
{
 "width": 451, "height": 353,
 "data": {"name": "ph5"},
 "layer": [
  {"data": {"values": [{}]}, "mark": {"type": "rule", "strokeDash": [10, 7], "strokeWidth": 1.4, "color": "black"}, "encoding": {"y": {"datum": 0.5}}},
  {"mark": {"type": "line", "interpolate": "step-after", "strokeWidth": 2.3, "color": "black"},
   "encoding": {
    "x": {"field": "t", "type": "quantitative", "scale": {"domain": [0, 500], "nice": false, "zero": false}, "axis": {"values": [0,100,200,300,400,500], "labelOverlap": false, "labelPadding": 23.5, "title": "Time (minute)", "titlePadding": 8}},
    "y": {"field": "s", "type": "quantitative", "scale": {"domain": [0, 1], "nice": false}, "axis": {"values": [0,0.1,0.2,0.3,0.4,0.5,0.6,0.7,0.8,0.9,1], "tickCount": 11, "labelOverlap": false, "format": "~g", "labelPadding": 26, "labelExpr": "datum.value >= 1 ? '' : datum.label", "title": null}},
    "strokeDash": {"field": "g", "type": "nominal", "scale": {"domain": ["C","S","Spd1","Spd10"], "range": [[1,0],[1.5,2.5],[8,5],[10,5,2,5]]}, "legend": null},
    "order": [{"field": "t", "type": "quantitative"}, {"field": "s", "type": "quantitative", "sort": "descending"}]
   }},
  {"transform": [{"filter": "datum.m == 'e'"}], "mark": {"type": "point", "shape": "M-1,0L1,0M0,-1L0,1", "size": 170, "filled": false, "strokeWidth": 1.6, "color": "black", "opacity": 1}, "encoding": {"x": {"field": "t", "type": "quantitative"}, "y": {"field": "s", "type": "quantitative"}}},
  {"transform": [{"filter": "datum.m == 'c'"}], "mark": {"type": "point", "shape": "M-1,-1L1,1M-1,1L1,-1", "size": 130, "filled": false, "strokeWidth": 1.6, "color": "black", "opacity": 1}, "encoding": {"x": {"field": "t", "type": "quantitative"}, "y": {"field": "s", "type": "quantitative"}}},
  {"data": {"name": "ann"}, "transform": [{"filter": "datum.k == 'Qt'"}], "mark": {"type": "text", "align": "left", "baseline": "alphabetic", "fontSize": 32}, "encoding": {"x": {"datum": 316}, "y": {"datum": 0.867}, "text": {"field": "v"}}},
  {"data": {"name": "ann"}, "transform": [{"filter": "datum.k == 'Q0a'"}], "mark": {"type": "text", "align": "left", "baseline": "alphabetic", "fontSize": 19, "dy": 0}, "encoding": {"x": {"datum": 25.5}, "y": {"datum": 0.196}, "text": {"field": "v"}}},
  {"data": {"name": "ann"}, "transform": [{"filter": "datum.k == 'pp'"}], "mark": {"type": "text", "align": "left", "baseline": "alphabetic", "fontSize": 19, "fontStyle": "italic", "dx": 43.3, "dy": 0}, "encoding": {"x": {"datum": 25.5}, "y": {"datum": 0.196}, "text": {"field": "v"}}},
  {"data": {"name": "ann"}, "transform": [{"filter": "datum.k == 'Q0c'"}], "mark": {"type": "text", "align": "left", "baseline": "alphabetic", "fontSize": 19, "dx": 59.1, "dy": 0}, "encoding": {"x": {"datum": 25.5}, "y": {"datum": 0.196}, "text": {"field": "v"}}},
  {"data": {"name": "ann"}, "transform": [{"filter": "datum.k == 'Q1a'"}], "mark": {"type": "text", "align": "left", "baseline": "alphabetic", "fontSize": 19, "dy": 21.5}, "encoding": {"x": {"datum": 25.5}, "y": {"datum": 0.196}, "text": {"field": "v"}}},
  {"data": {"name": "ann"}, "transform": [{"filter": "datum.k == 'pp'"}], "mark": {"type": "text", "align": "left", "baseline": "alphabetic", "fontSize": 19, "fontStyle": "italic", "dx": 75.0, "dy": 21.5}, "encoding": {"x": {"datum": 25.5}, "y": {"datum": 0.196}, "text": {"field": "v"}}},
  {"data": {"name": "ann"}, "transform": [{"filter": "datum.k == 'Q1c'"}], "mark": {"type": "text", "align": "left", "baseline": "alphabetic", "fontSize": 19, "dx": 90.8, "dy": 21.5}, "encoding": {"x": {"datum": 25.5}, "y": {"datum": 0.196}, "text": {"field": "v"}}},
  {"data": {"name": "ann"}, "transform": [{"filter": "datum.k == 'Q2a'"}], "mark": {"type": "text", "align": "left", "baseline": "alphabetic", "fontSize": 19, "dy": 43}, "encoding": {"x": {"datum": 25.5}, "y": {"datum": 0.196}, "text": {"field": "v"}}},
  {"data": {"name": "ann"}, "transform": [{"filter": "datum.k == 'pp'"}], "mark": {"type": "text", "align": "left", "baseline": "alphabetic", "fontSize": 19, "fontStyle": "italic", "dx": 85.5, "dy": 43}, "encoding": {"x": {"datum": 25.5}, "y": {"datum": 0.196}, "text": {"field": "v"}}},
  {"data": {"name": "ann"}, "transform": [{"filter": "datum.k == 'Q2c'"}], "mark": {"type": "text", "align": "left", "baseline": "alphabetic", "fontSize": 19, "dx": 101.3, "dy": 43}, "encoding": {"x": {"datum": 25.5}, "y": {"datum": 0.196}, "text": {"field": "v"}}}
 ]
},
{
 "width": 457, "height": 292,
 "view": {"stroke": null},
 "data": {"name": "cap"},
 "layer": [
  {"transform": [{"filter": "datum.id == 'pa'"}], "mark": {"type": "text", "align": "left", "baseline": "alphabetic", "fontSize": 34, "fontWeight": "bold", "color": "black"}, "encoding": {"x": {"datum": 85, "scale": {"domain": [0, 1282], "range": [-178, 1104], "zero": false, "nice": false}, "axis": null}, "y": {"datum": 55, "scale": {"domain": [0, 1048], "range": [-756, 292], "zero": false, "nice": false}, "axis": null}, "text": {"field": "v"}}},
  {"transform": [{"filter": "datum.id == 'pb'"}], "mark": {"type": "text", "align": "left", "baseline": "alphabetic", "fontSize": 34, "fontWeight": "bold", "color": "black"}, "encoding": {"x": {"datum": 681, "axis": null}, "y": {"datum": 55, "axis": null}, "text": {"field": "v"}}},
  {"transform": [{"filter": "datum.id == 'L1a'"}], "mark": {"type": "text", "align": "left", "baseline": "alphabetic", "fontSize": 18.5, "fontWeight": "bold", "color": "#1a1a1a"}, "encoding": {"x": {"datum": 22, "axis": null}, "y": {"datum": 854, "axis": null}, "text": {"field": "v"}}},
  {"transform": [{"filter": "datum.id == 'L1b'"}], "mark": {"type": "text", "align": "right", "baseline": "alphabetic", "fontSize": 18.5, "color": "#1a1a1a"}, "encoding": {"x": {"datum": 1262, "axis": null}, "y": {"datum": 854, "axis": null}, "text": {"field": "v"}}},
  {"transform": [{"filter": "datum.id == 'L2'"}], "mark": {"type": "text", "align": "left", "baseline": "alphabetic", "fontSize": 18.5, "color": "#1a1a1a"}, "encoding": {"x": {"datum": 22, "axis": null}, "y": {"datum": 883, "axis": null}, "text": {"field": "v"}}},
  {"transform": [{"filter": "datum.id == 'L3'"}], "mark": {"type": "text", "align": "left", "baseline": "alphabetic", "fontSize": 18.5, "color": "#1a1a1a"}, "encoding": {"x": {"datum": 22, "axis": null}, "y": {"datum": 911, "axis": null}, "text": {"field": "v"}}},
  {"transform": [{"filter": "datum.id == 'L4a'"}], "mark": {"type": "text", "align": "left", "baseline": "alphabetic", "fontSize": 18.5, "color": "#1a1a1a"}, "encoding": {"x": {"datum": 22, "axis": null}, "y": {"datum": 940, "axis": null}, "text": {"field": "v"}}},
  {"transform": [{"filter": "datum.id == 'L4b'"}], "mark": {"type": "text", "align": "left", "baseline": "alphabetic", "fontSize": 18.5, "fontWeight": "bold", "color": "#1a1a1a"}, "encoding": {"x": {"datum": 474, "axis": null}, "y": {"datum": 940, "axis": null}, "text": {"field": "v"}}},
  {"transform": [{"filter": "datum.id == 'L4c'"}], "mark": {"type": "text", "align": "left", "baseline": "alphabetic", "fontSize": 18.5, "color": "#1a1a1a"}, "encoding": {"x": {"datum": 490.4, "axis": null}, "y": {"datum": 940, "axis": null}, "text": {"field": "v"}}},
  {"transform": [{"filter": "datum.id == 'L5'"}], "mark": {"type": "text", "align": "left", "baseline": "alphabetic", "fontSize": 18.5, "color": "#1a1a1a"}, "encoding": {"x": {"datum": 22, "axis": null}, "y": {"datum": 969, "axis": null}, "text": {"field": "v"}}},
  {"transform": [{"filter": "datum.id == 'L6a'"}], "mark": {"type": "text", "align": "left", "baseline": "alphabetic", "fontSize": 18.5, "color": "#1a1a1a"}, "encoding": {"x": {"datum": 22, "axis": null}, "y": {"datum": 998, "axis": null}, "text": {"field": "v"}}},
  {"transform": [{"filter": "datum.id == 'L6b'"}], "mark": {"type": "text", "align": "left", "baseline": "alphabetic", "fontSize": 18.5, "fontStyle": "italic", "color": "#1a1a1a"}, "encoding": {"x": {"datum": 635.8, "axis": null}, "y": {"datum": 998, "axis": null}, "text": {"field": "v"}}},
  {"transform": [{"filter": "datum.id == 'L6c'"}], "mark": {"type": "text", "align": "left", "baseline": "alphabetic", "fontSize": 18.5, "color": "#1a1a1a"}, "encoding": {"x": {"datum": 646.1, "axis": null}, "y": {"datum": 998, "axis": null}, "text": {"field": "v"}}},
  {"transform": [{"filter": "datum.id == 'L7'"}], "mark": {"type": "text", "align": "left", "baseline": "alphabetic", "fontSize": 18.5, "color": "#1a1a1a"}, "encoding": {"x": {"datum": 22, "axis": null}, "y": {"datum": 1027, "axis": null}, "text": {"field": "v"}}},
  {"data": {"values": [{"part": "frame"}]}, "mark": {"type": "rule", "color": "#333", "strokeWidth": 2.5, "strokeCap": "round"}, "encoding": {"x": {"datum": 18, "axis": null}, "x2": {"datum": 1280}, "y": {"datum": 14, "axis": null}}},
  {"data": {"values": [{"part": "frame"}]}, "mark": {"type": "rule", "color": "#333", "strokeWidth": 2.5, "strokeCap": "round"}, "encoding": {"x": {"datum": 18, "axis": null}, "x2": {"datum": 1280}, "y": {"datum": 1046, "axis": null}}},
  {"data": {"values": [{"part": "frame"}]}, "mark": {"type": "rule", "color": "#333", "strokeWidth": 2.5, "strokeCap": "round"}, "encoding": {"x": {"datum": 10, "axis": null}, "y": {"datum": 22, "axis": null}, "y2": {"datum": 1038}}},
  {"data": {"values": [{"part": "frame"}]}, "mark": {"type": "rule", "color": "#333", "strokeWidth": 2.5, "strokeCap": "round"}, "encoding": {"x": {"datum": 10, "axis": null}, "x2": {"datum": 12.34}, "y": {"datum": 22, "axis": null}, "y2": {"datum": 16.34}}},
  {"data": {"values": [{"part": "frame"}]}, "mark": {"type": "rule", "color": "#333", "strokeWidth": 2.5, "strokeCap": "round"}, "encoding": {"x": {"datum": 12.34, "axis": null}, "x2": {"datum": 18}, "y": {"datum": 16.34, "axis": null}, "y2": {"datum": 14}}},
  {"data": {"values": [{"part": "frame"}]}, "mark": {"type": "rule", "color": "#333", "strokeWidth": 2.5, "strokeCap": "round"}, "encoding": {"x": {"datum": 10, "axis": null}, "x2": {"datum": 12.34}, "y": {"datum": 1038, "axis": null}, "y2": {"datum": 1043.66}}},
  {"data": {"values": [{"part": "frame"}]}, "mark": {"type": "rule", "color": "#333", "strokeWidth": 2.5, "strokeCap": "round"}, "encoding": {"x": {"datum": 12.34, "axis": null}, "x2": {"datum": 18}, "y": {"datum": 1043.66, "axis": null}, "y2": {"datum": 1046}}}
 ]
}
]
}
